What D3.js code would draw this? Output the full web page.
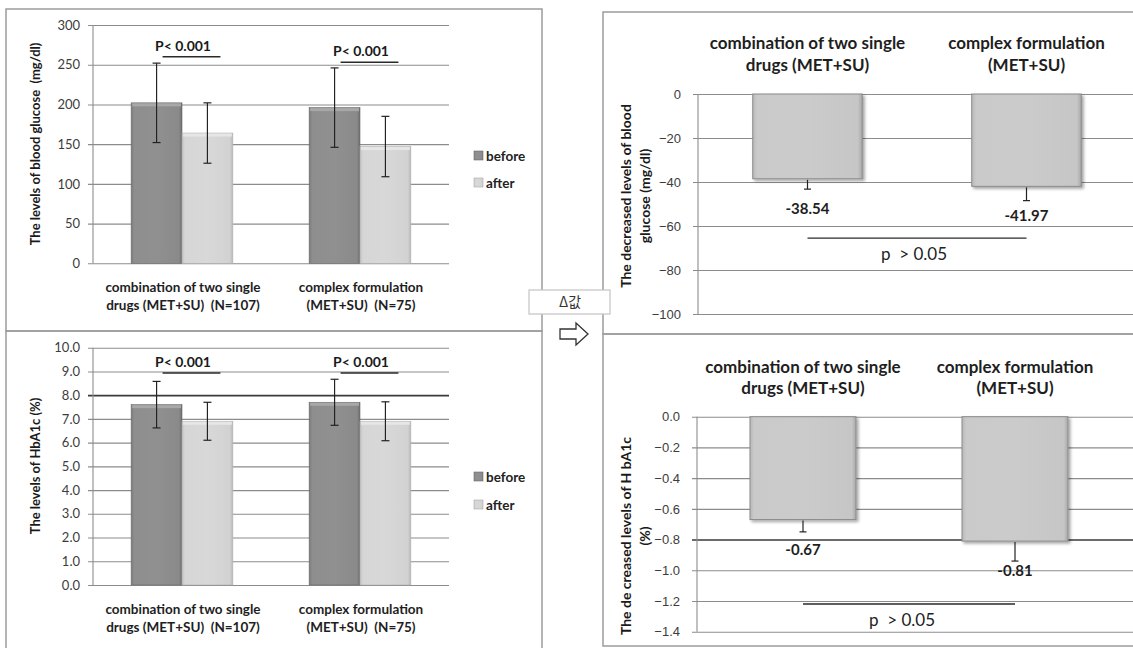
<!DOCTYPE html>
<html><head><meta charset="utf-8">
<script src="https://cdn.jsdelivr.net/npm/d3@7"></script>
<style>
body{margin:0;background:#fff;}
svg{display:block;font-family:Lato,"Open Sans",sans-serif;}
</style></head><body>
<svg id="c" width="1133" height="648"></svg>
<script>
// ---------- DATA ----------
const leftCategories = [["combination of two single","drugs (MET+SU)\u00a0 (N=107)"],["complex formulation","(MET+SU)\u00a0 (N=75)"]];
const rightCategories = [["combination of two single","drugs (MET+SU)"],["complex formulation","(MET+SU)"]];
const seriesNames = ["before","after"];

const glucoseBefore = [202, 196];
const glucoseAfter = [164, 147];
const glucoseBeforeSD = [50, 50];
const glucoseAfterSD = [38, 38];
const glucoseTicks = [0,50,100,150,200,250,300];
const glucosePText = ["P< 0.001","P< 0.001"];

const hba1cBefore = [7.6, 7.7];
const hba1cAfter = [6.9, 6.9];
const hba1cBeforeSD = [0.98, 0.97];
const hba1cAfterSD = [0.8, 0.82];
const hba1cTicks = [0,1,2,3,4,5,6,7,8,9,10];
const hba1cPText = ["P< 0.001","P< 0.001"];

const glucoseDelta = [-38.54, -41.97];
const glucoseDeltaErr = [4.7, 6.5];
const glucoseDeltaTicks = [0,-20,-40,-60,-80,-100];

const hba1cDelta = [-0.67, -0.81];
const hba1cDeltaErr = [0.08, 0.13];
const hba1cDeltaTicks = [0,-0.2,-0.4,-0.6,-0.8,-1.0,-1.2,-1.4];

const deltaPText = "p\u00a0 > 0.05";

// ---------- SETUP ----------
const svg = d3.select("#c");
const defs = svg.append("defs");
function hGrad(id, stops){
  const g = defs.append("linearGradient").attr("id",id).attr("x1","0").attr("x2","1").attr("y1","0").attr("y2","0");
  stops.forEach(s=>g.append("stop").attr("offset",s[0]).attr("stop-color",s[1]));
}
hGrad("gBefore",[[0,"#7a7a7a"],[0.06,"#8e8e8e"],[0.5,"#909090"],[0.94,"#8a8a8a"],[1,"#6e6e6e"]]);
hGrad("gAfter",[[0,"#c2c2c2"],[0.06,"#d6d6d6"],[0.5,"#d8d8d8"],[0.94,"#d2d2d2"],[1,"#b8b8b8"]]);
hGrad("gDelta",[[0,"#b8b8b8"],[0.04,"#cacaca"],[0.5,"#cbcbcb"],[0.96,"#c6c6c6"],[1,"#a8a8a8"]]);
const flt = defs.append("filter").attr("id","shadow").attr("x","-10%").attr("y","-10%").attr("width","130%").attr("height","130%");
flt.append("feDropShadow").attr("dx",2).attr("dy",2).attr("stdDeviation",1.5).attr("flood-color","#000").attr("flood-opacity",0.35);

// panel borders
const borderColor = "#9c9c9c";
svg.append("rect").attr("x",6).attr("y",9).attr("width",536).attr("height",322).attr("fill","none").attr("stroke",borderColor).attr("stroke-width",1.5);
svg.append("rect").attr("x",6).attr("y",331).attr("width",536).attr("height",330).attr("fill","none").attr("stroke",borderColor).attr("stroke-width",1.5);
svg.append("rect").attr("x",603).attr("y",12).attr("width",560).attr("height",322).attr("fill","none").attr("stroke",borderColor).attr("stroke-width",1.5);
svg.append("rect").attr("x",603).attr("y",334).attr("width",560).attr("height",312).attr("fill","none").attr("stroke",borderColor).attr("stroke-width",1.5);

// ---------- LEFT CHARTS ----------
function leftChart(o){
  const g = svg.append("g");
  const y = d3.scaleLinear().domain(o.domain).range(o.yRange);
  const x = d3.scaleBand().domain(d3.range(leftCategories.length)).range([93,449]).padding(0);
  const bw = x.bandwidth()/3.5;
  const ax = d3.axisLeft(y).tickValues(o.ticks).tickSize(-(449-93)).tickPadding(13).tickFormat(o.fmt);
  const axG = g.append("g").attr("transform","translate(93,0)").call(ax);
  axG.select(".domain").remove();
  axG.selectAll(".tick line").attr("stroke",d=>d===o.dark?"#3a3a3a":"#8c8c8c").attr("stroke-width",d=>d===o.dark?1.6:1.1).attr("x1",-5);
  axG.selectAll(".tick text").attr("font-size",13).attr("fill","#3c3c3c").attr("font-family","Lato");
  g.append("line").attr("x1",93).attr("x2",93).attr("y1",o.yRange[1]).attr("y2",o.yRange[0]).attr("stroke","#8c8c8c").attr("stroke-width",1.1);
  const series = [{v:o.before,sd:o.beforeSD,fill:"url(#gBefore)",top:"#a8a8a8"},{v:o.after,sd:o.afterSD,fill:"url(#gAfter)",top:"#e6e6e6"}];
  series.forEach((s,si)=>{
    const bx = i => x(i) + x.bandwidth()/2 - bw + si*bw;
    g.selectAll(null).data(s.v).enter().append("rect")
      .attr("x",(d,i)=>bx(i)).attr("y",d=>y(d)).attr("width",bw).attr("height",d=>y(0)-y(d))
      .attr("fill",s.fill).attr("stroke",si===0?"#6a6a6a":"#b0b0b0").attr("stroke-width",0.6);
    g.selectAll(null).data(s.v).enter().append("rect")
      .attr("x",(d,i)=>bx(i)+1).attr("y",d=>y(d)+0.5).attr("width",bw-2).attr("height",3)
      .attr("fill",s.top);
  });
  series.forEach((s,si)=>{
    s.v.forEach((d,i)=>{
      const cx = x(i) + x.bandwidth()/2 - bw/2 + si*bw;
      const y1 = y(d+s.sd[i]), y2 = y(d-s.sd[i]);
      g.append("line").attr("x1",cx).attr("x2",cx).attr("y1",y1).attr("y2",y2).attr("stroke","#222").attr("stroke-width",1.2);
      [y1,y2].forEach(yy=>g.append("line").attr("x1",cx-4).attr("x2",cx+4).attr("y1",yy).attr("y2",yy).attr("stroke","#222").attr("stroke-width",1.2));
    });
  });
  o.pText.forEach((t,i)=>{
    const c1 = x(i) + x.bandwidth()/2 - bw/2;
    const c2 = c1 + bw;
    const ly = y(o.pLine[i]);
    g.append("line").attr("x1",c1+6).attr("x2",c2+13).attr("y1",ly).attr("y2",ly).attr("stroke","#2a2a2a").attr("stroke-width",1.5);
    g.append("text").attr("x",x(i)+x.bandwidth()/2+1).attr("y",ly-6).attr("text-anchor","middle")
      .attr("font-size",14).attr("font-weight","bold").attr("fill","#1a1a1a").text(t);
  });
  leftCategories.forEach((lines,i)=>{
    lines.forEach((ln,j)=>{
      g.append("text").attr("x",x(i)+x.bandwidth()/2+1).attr("y",y(0)+29+j*18).attr("text-anchor","middle")
        .attr("font-size",13.5).attr("fill","#1e1e1e").attr("font-weight","bold").text(ln);
    });
  });
  seriesNames.forEach((n,k)=>{
    const ly = o.legendY[k];
    g.append("rect").attr("x",474).attr("y",ly-5).attr("width",9).attr("height",9)
      .attr("fill",k===0?"url(#gBefore)":"url(#gAfter)").attr("stroke",k===0?"#6a6a6a":"#a8a8a8").attr("stroke-width",0.6);
    g.append("text").attr("x",486).attr("y",ly+4.5).attr("font-size",13.5).attr("font-weight","bold").attr("fill","#222").text(n);
  });
  g.append("text").attr("transform",`translate(40,${o.titleY}) rotate(-90)`).attr("text-anchor","middle")
    .attr("font-size",13).attr("font-weight","bold").attr("fill","#1a1a1a").text(o.title);
}

leftChart({domain:[0,300],yRange:[263.3,25],ticks:glucoseTicks,fmt:d3.format("d"),
  before:glucoseBefore,after:glucoseAfter,beforeSD:glucoseBeforeSD,afterSD:glucoseAfterSD,
  pText:glucosePText,pLine:[260,253],legendY:[156,183],title:"The levels of blood glucose\u00a0 (mg/dl)",titleY:144,dark:null});
leftChart({domain:[0,10],yRange:[585,347.7],ticks:hba1cTicks,fmt:d3.format(".1f"),
  before:hba1cBefore,after:hba1cAfter,beforeSD:hba1cBeforeSD,afterSD:hba1cAfterSD,
  pText:hba1cPText,pLine:[8.93,8.93],legendY:[477,505],title:"The levels of HbA1c (%)",titleY:466,dark:8});

// ---------- RIGHT CHARTS ----------
function rightChart(o){
  const g = svg.append("g");
  const y = d3.scaleLinear().domain(o.domain).range(o.yRange);
  const x = d3.scaleBand().domain(d3.range(rightCategories.length)).range(o.xRange).padding(0);
  const bw = x.bandwidth()/2;
  const left = o.xRange[0];
  const ax = d3.axisLeft(y).tickValues(o.ticks).tickSize(-(1140-left)).tickPadding(17).tickFormat(o.fmt);
  const axG = g.append("g").attr("transform",`translate(${left},0)`).call(ax);
  axG.select(".domain").remove();
  axG.selectAll(".tick line").attr("stroke",d=>d===o.dark?"#3a3a3a":"#8c8c8c").attr("stroke-width",d=>d===o.dark?1.6:1.1).attr("x1",-5);
  axG.selectAll(".tick text").attr("font-size",13).attr("fill","#3c3c3c");
  g.append("line").attr("x1",left).attr("x2",left).attr("y1",o.yRange[1]).attr("y2",o.yRange[0]).attr("stroke","#8c8c8c").attr("stroke-width",1.1);
  g.selectAll(null).data(o.values).enter().append("rect")
    .attr("x",(d,i)=>x(i)+x.bandwidth()/2-bw/2).attr("y",y(0)).attr("width",bw).attr("height",d=>y(d)-y(0))
    .attr("fill","url(#gDelta)").attr("stroke","#8a8a8a").attr("stroke-width",1).attr("filter","url(#shadow)");
  o.values.forEach((d,i)=>{
    const cx = x(i)+x.bandwidth()/2;
    g.append("line").attr("x1",cx).attr("x2",cx).attr("y1",y(d)+1).attr("y2",y(d-o.err[i])).attr("stroke","#222").attr("stroke-width",1.2);
    g.append("line").attr("x1",cx-3.5).attr("x2",cx+3.5).attr("y1",y(d-o.err[i])).attr("y2",y(d-o.err[i])).attr("stroke","#222").attr("stroke-width",1.2);
    g.append("text").attr("x",cx).attr("y",y(d)+35).attr("text-anchor","middle")
      .attr("font-size",15).attr("font-weight","bold").attr("fill","#1e1e1e").text(d.toFixed(2));
  });
  rightCategories.forEach((lines,i)=>{
    lines.forEach((ln,j)=>{
      g.append("text").attr("x",x(i)+x.bandwidth()/2).attr("y",o.catY+j*o.catDy).attr("text-anchor","middle")
        .attr("font-size",17).attr("font-weight","bold").attr("fill","#1e1e1e").text(ln);
    });
  });
  const c1 = x(0)+x.bandwidth()/2, c2 = x(1)+x.bandwidth()/2;
  g.append("line").attr("x1",c1).attr("x2",c2).attr("y1",y(o.pLine)).attr("y2",y(o.pLine)).attr("stroke","#2a2a2a").attr("stroke-width",1.4);
  g.append("text").attr("x",o.pX).attr("y",y(o.pLine)+22).attr("text-anchor","middle")
    .attr("font-size",17).attr("fill","#222").text(deltaPText);
  o.title.forEach((t,j)=>{
    g.append("text").attr("transform",`translate(${631+j*19},${o.titleY}) rotate(-90)`).attr("text-anchor","middle")
      .attr("font-size",14).attr("font-weight","bold").attr("fill","#1a1a1a").text(t);
  });
}

rightChart({domain:[-100,0],yRange:[314,94],xRange:[698,1136],ticks:glucoseDeltaTicks,fmt:d3.format("d"),
  values:glucoseDelta,err:glucoseDeltaErr,catY:49,catDy:22,pLine:-65.5,pX:914,
  title:["The decreased levels of blood","glucose (mg/dl)"],titleY:196,dark:null});
rightChart({domain:[-1.4,0],yRange:[631.7,416.7],xRange:[697,1121],ticks:hba1cDeltaTicks,fmt:d3.format(".1f"),
  values:hba1cDelta,err:hba1cDeltaErr,catY:373,catDy:21,pLine:-1.22,pX:902,
  title:["The de creased levels of H bA1c","(%)"],titleY:536,dark:-0.8});

// ---------- MIDDLE: delta box and arrow ----------
svg.append("rect").attr("x",529).attr("y",290).attr("width",81).attr("height",24).attr("fill","#fff").attr("stroke","#c4c4c4").attr("stroke-width",1.2);
svg.append("text").attr("x",570).attr("y",307).attr("text-anchor","middle").attr("font-size",14)
  .attr("font-family","'Noto Sans CJK KR','Noto Sans',sans-serif").attr("fill","#333").text("Δ값");
const arrowPts = [[560,329],[576,329],[576,323],[588,334],[576,345],[576,339],[560,339]];
svg.append("path").attr("d",d3.line()(arrowPts)+"Z").attr("fill","#fff").attr("stroke","#333").attr("stroke-width",1.3);
</script>
</body></html>
